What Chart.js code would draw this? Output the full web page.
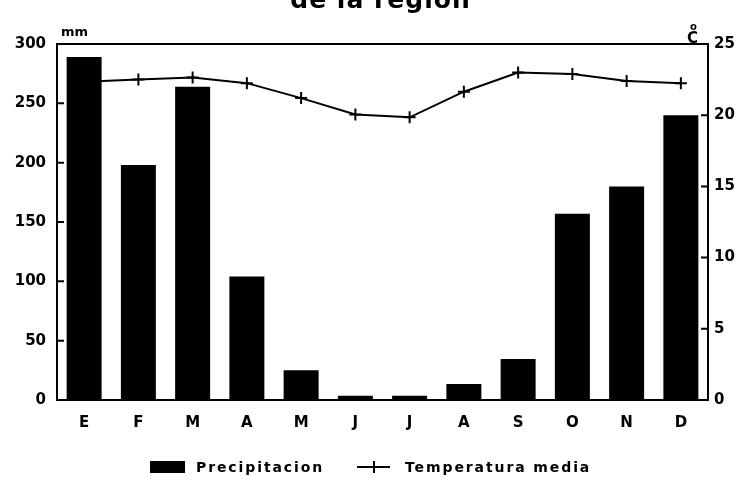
<!DOCTYPE html>
<html><head><meta charset="utf-8">
<script src="https://cdn.jsdelivr.net/npm/chart.js@4/dist/chart.umd.min.js"></script>
<style>
html,body{margin:0;padding:0;background:#fff;overflow:hidden}
#wrap{position:relative;width:741px;height:492px;overflow:hidden}
canvas{position:absolute;left:0;top:0}
.t{position:absolute;font-family:"DejaVu Sans",sans-serif;font-weight:bold;color:#000;white-space:nowrap;line-height:1}
</style></head><body>
<div id="wrap">
<canvas id="c" width="741" height="492"></canvas>
<div class="t" id="title" style="left:10px;width:741px;text-align:center;top:-13px;font-size:25px;letter-spacing:1px">de la region</div>
<div class="t" style="left:61px;top:25px;font-size:13px">mm</div>
<div class="t" style="left:690px;top:22px;font-size:10px">o</div>
<div class="t" style="left:687px;top:31px;font-size:15px">C</div>
<div id="legend"></div>
</div>
<script>
const months = ["E","F","M","A","M","J","J","A","S","O","N","D"];
const precipitacion = [289, 198, 264, 104, 25, 3.5, 3.5, 13.5, 34.5, 157, 180, 240];
const temperatura = [22.35, 22.5, 22.65, 22.25, 21.2, 20.05, 19.85, 21.65, 23.0, 22.9, 22.4, 22.25];
const seriesNames = ["Precipitacion", "Temperatura media"];
const mmTicks = [0, 50, 100, 150, 200, 250, 300];
const cTicks = [0, 5, 10, 15, 20, 25];

const font = {family: "DejaVu Sans", weight: "bold", size: 15};

const frame = {
  id: 'frame',
  afterDraw(chart) {
    const ctx = chart.ctx, a = chart.chartArea;
    ctx.save();
    ctx.strokeStyle = '#000';
    ctx.lineWidth = 2;
    ctx.strokeRect(a.left, a.top, a.right - a.left, a.bottom - a.top);
    const y = chart.scales.y, y1 = chart.scales.y1;
    ctx.beginPath();
    y.ticks.forEach((t, i) => { const p = y.getPixelForTick(i); ctx.moveTo(a.left, p); ctx.lineTo(a.left + 7, p); });
    y1.ticks.forEach((t, i) => { const p = y1.getPixelForTick(i); ctx.moveTo(a.right, p); ctx.lineTo(a.right - 7, p); });
    ctx.stroke();
    ctx.restore();
  }
};

new Chart(document.getElementById('c'), {
  data: {
    labels: months,
    datasets: [
      {type: 'bar', label: seriesNames[0], data: precipitacion, backgroundColor: '#000', borderWidth: 0,
       yAxisID: 'y', categoryPercentage: 1, barPercentage: 0.645},
      {type: 'line', label: seriesNames[1], data: temperatura, borderColor: '#000', borderWidth: 2,
       pointStyle: 'cross', pointRadius: 6, pointBorderWidth: 2, pointBorderColor: '#000', tension: 0, yAxisID: 'y1'}
    ]
  },
  options: {
    responsive: false, animation: false,
    layout: {padding: {left: 0, right: 0, top: 44, bottom: 62}},
    plugins: {legend: {display: false}, tooltip: {enabled: false}},
    scales: {
      x: {grid: {display: false}, border: {display: false},
          ticks: {font: font, color: '#000', padding: 6},
          afterFit(s) { s.height = 30; }},
      y: {position: 'left', min: 0, max: 300, grid: {display: false, drawTicks: false}, border: {display: false},
          afterBuildTicks(s) { s.ticks = mmTicks.map(v => ({value: v})); },
          ticks: {font: font, color: '#000', padding: 11},
          afterFit(s) { s.width = 57; }},
      y1: {position: 'right', min: 0, max: 25, grid: {display: false, drawTicks: false}, border: {display: false},
          afterBuildTicks(s) { s.ticks = cTicks.map(v => ({value: v})); },
          ticks: {font: font, color: '#000', padding: 6},
          afterFit(s) { s.width = 33; }}
    }
  },
  plugins: [frame]
});

// legend (HTML, from series names)
const lg = document.getElementById('legend');
lg.innerHTML =
  '<div style="position:absolute;left:150px;top:461px;width:35px;height:12px;background:#000"></div>' +
  '<div class="t" style="left:196px;top:460px;font-size:14px;letter-spacing:1.9px">' + seriesNames[0] + '</div>' +
  '<div style="position:absolute;left:357px;top:466px;width:33px;height:2px;background:#000"></div>' +
  '<div style="position:absolute;left:373px;top:461px;width:2px;height:12px;background:#000"></div>' +
  '<div class="t" style="left:405px;top:460px;font-size:14px;letter-spacing:1.9px">' + seriesNames[1] + '</div>';
</script>
</body></html>
